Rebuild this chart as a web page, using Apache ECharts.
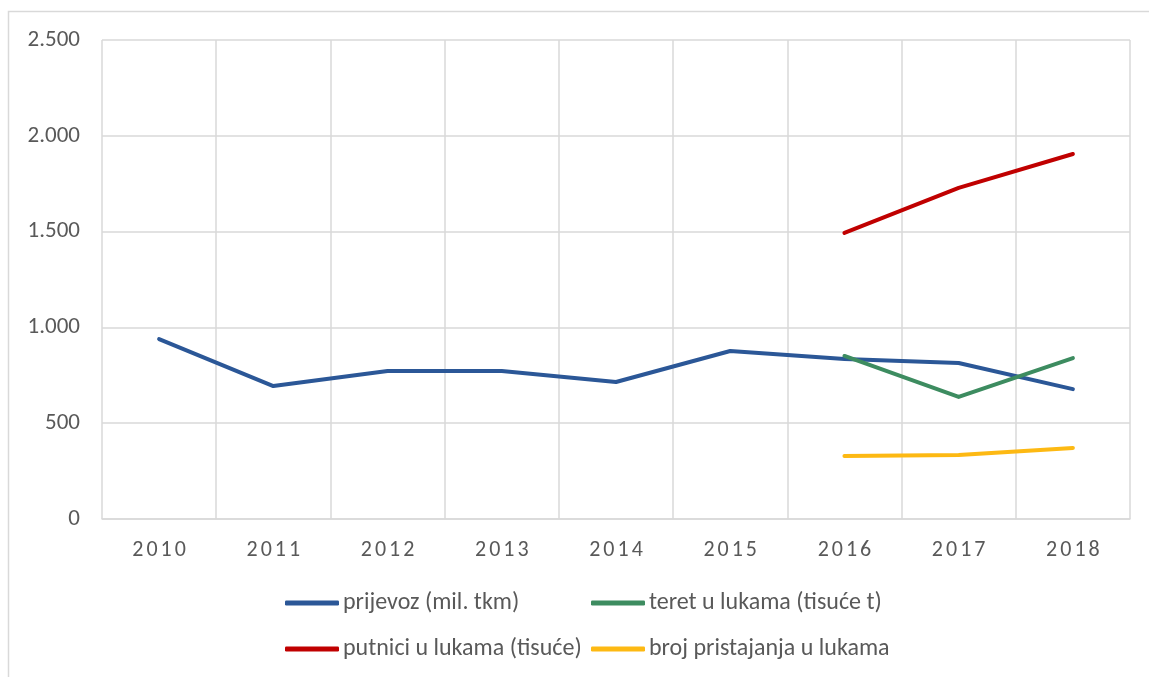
<!DOCTYPE html>
<html>
<head>
<meta charset="utf-8">
<script src="https://cdn.jsdelivr.net/npm/echarts@6/dist/echarts.min.js"></script>
<style>
  html, body { margin: 0; padding: 0; background: #fff; }
  #chart { width: 1149px; height: 677px; }
</style>
</head>
<body>
<div id="chart"></div>
<script>
// Years on the category axis
const years = ['2010', '2011', '2012', '2013', '2014', '2015', '2016', '2017', '2018'];

// Series values (null = no data for that year)
const prijevoz = [939, 694, 772, 772, 715, 877, 835, 814, 678];
const teret = [null, null, null, null, null, null, 851, 637, 840];
const putnici = [null, null, null, null, null, null, 1493, 1728, 1905];
const pristajanja = [null, null, null, null, null, null, 329, 334, 371];

// Value axis ticks
const yTicks = [0, 500, 1000, 1500, 2000, 2500];

const names = [
  'prijevoz (mil. tkm)',
  'teret u lukama (tisuće t)',
  'putnici u lukama (tisuće)',
  'broj pristajanja u lukama'
];
const colors = ['#2B5797', '#3D8C60', '#C00000', '#FDB913'];
const values = [prijevoz, teret, putnici, pristajanja];

const font = 'Calibri, Carlito, Lato, "Open Sans", sans-serif';
const textColor = '#595959';
const gridColor = '#D9D9D9';

// Legend arranged in two columns of two rows
const legendPos = [
  { left: 285, top: 591 },
  { left: 591, top: 591 },
  { left: 285, top: 637 },
  { left: 591, top: 637 }
];

const chart = echarts.init(document.getElementById('chart'));

chart.setOption({
  animation: false,
  graphic: [{
    type: 'rect',
    shape: { x: 8.5, y: 11.5, width: 1200, height: 720 },
    style: { fill: 'none', stroke: gridColor, lineWidth: 1.5 },
    silent: true
  }],
  grid: { left: 102, right: 19, top: 40, bottom: 158, containLabel: false },
  legend: names.map((n, i) => ({
    data: [n],
    left: legendPos[i].left,
    top: legendPos[i].top,
    icon: 'roundRect',
    itemWidth: 54,
    itemHeight: 5,
    itemGap: 0,
    padding: 0,
    textStyle: { fontFamily: font, fontSize: 24, color: textColor, padding: [0, 0, 0, -1] }
  })),
  xAxis: {
    type: 'category',
    data: years,
    boundaryGap: true,
    axisLine: { show: true, lineStyle: { color: gridColor, width: 1.5 } },
    axisTick: { show: false },
    splitLine: { show: true, interval: 0, lineStyle: { color: gridColor, width: 1.5 } },
    axisLabel: {
      interval: 0,
      margin: 20,
      fontFamily: font,
      fontSize: 22,
      color: textColor,
      // spaced-out digits for the year labels
      formatter: v => v.split('').map(c => '{d|' + c + '}').join(''),
      rich: {
        d: { fontFamily: font, fontSize: 22, color: textColor, padding: [0, 1.5, 0, 1.5] }
      }
    }
  },
  yAxis: {
    type: 'value',
    min: yTicks[0],
    max: yTicks[yTicks.length - 1],
    interval: yTicks[1] - yTicks[0],
    axisLine: { show: false },
    axisTick: { show: false },
    splitLine: { show: true, lineStyle: { color: gridColor, width: 1.5 } },
    axisLabel: {
      margin: 22,
      fontFamily: font,
      fontSize: 23,
      color: textColor,
      formatter: v => String(v).replace(/\B(?=(\d{3})+(?!\d))/g, '.')
    }
  },
  series: values.map((d, i) => ({
    name: names[i],
    type: 'line',
    data: d,
    showSymbol: false,
    symbol: 'none',
    connectNulls: false,
    lineStyle: { color: colors[i], width: 4, cap: 'round', join: 'round' },
    itemStyle: { color: colors[i] }
  }))
});
</script>
</body>
</html>
